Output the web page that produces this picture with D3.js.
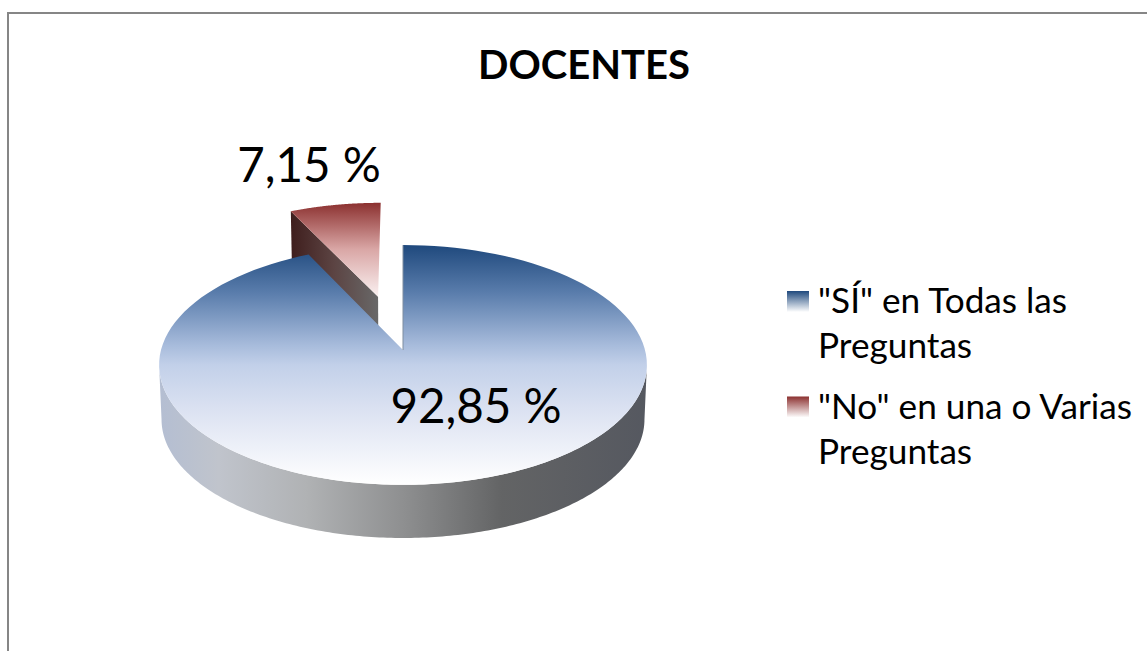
<!DOCTYPE html>
<html><head><meta charset="utf-8">
<script src="https://d3js.org/d3.v7.min.js"></script>
<style>html,body{margin:0;padding:0;background:#fff;overflow:hidden}svg{display:block}text{font-family:Lato,"Open Sans",sans-serif;fill:#000}</style>
</head><body><svg id="c" width="1147" height="651"></svg>
<script>
const chartTitle = "DOCENTES";
const categories = ['"SÍ" en Todas las Preguntas', '"No" en una o Varias Preguntas'];
const legendLines = [['"SÍ" en Todas las', 'Preguntas'], ['"No" en una o Varias', 'Preguntas']];
const values = [92.85, 7.15];
const valueLabels = ["92,85 %", "7,15 %"];

const svg = d3.select("#c");
const defs = svg.append("defs");
function grad(id, stops, x1, y1, x2, y2) {
  const g = defs.append("linearGradient").attr("id", id).attr("gradientUnits", "userSpaceOnUse")
    .attr("x1", x1).attr("y1", y1).attr("x2", x2).attr("y2", y2);
  stops.forEach(s => g.append("stop").attr("offset", s[0]).attr("stop-color", s[1]));
}
grad("blueTop", [[0,"#1f497d"],[.2,"#5a7dac"],[.42,"#a8bcdc"],[.5,"#c2d0e9"],[.7,"#dde3f2"],[1,"#ffffff"]], 0,245,0,485);
grad("redTop", [[0,"#8c3130"],[.5,"#d9a6a5"],[1,"#f9eeee"]], 0,203,0,295);
grad("wall", [[0,"#b4bed2"],[.12,"#c0c4cc"],[.3,"#b0b2b4"],[.5,"#8e8f90"],[.7,"#636465"],[1,"#555860"]], 160,0,648,0);
grad("redWall", [[0,"#3e1d1c"],[.5,"#5c4443"],[1,"#686868"]], 290,0,378,0);
grad("legBlue", [[0,"#1f497d"],[1,"#ffffff"]], 0,291,0,312);
grad("legRed", [[0,"#8c3130"],[1,"#ffffff"]], 0,291,0,312);

// frame
svg.append("path").attr("d","M8,651V13H1147").attr("fill","none").attr("stroke","#868686").attr("stroke-width",2);

// pie geometry through d3.pie, then a perspective projection of the disc
const pie = d3.pie().sort(null).value(d => d)(values);
const cx = 403, cy = 350, A = 242, B = 118, P = 0.125, DEPTH = 54.5, EXPLODE = 0.49;
function project(u, v, drop = 0) {
  const w = 1 + P * v, s = drop ? 0.99 : 1;
  return [cx + s * A * u / w, cy - s * B * v / w + drop];
}
function wedge(d, off, drop = 0) {
  const pts = [project(off[0], off[1], drop)];
  d3.range(0, 121).forEach(i => {
    const t = d.startAngle + (d.endAngle - d.startAngle) * i / 120;
    pts.push(project(off[0] + Math.sin(t), off[1] + Math.cos(t), drop));
  });
  return pts;
}
const line = p => "M" + p.map(q => q.map(n => n.toFixed(2)).join(",")).join("L") + "Z";
const [blue, red] = pie;
const mid = (red.startAngle + red.endAngle) / 2;
const off = [EXPLODE * Math.sin(mid), EXPLODE * Math.cos(mid)];

// exploded slice: its left wall first
const rTop = wedge(red, off);
const rLow = wedge(red, off, DEPTH);
svg.append("path").attr("fill", "url(#redWall)")
  .attr("d", line([rTop[1], rTop[0], rLow[0], rLow[1]]));
svg.append("path").attr("fill", "url(#redTop)").attr("d", line(rTop));

// main body: outer wall between the two silhouette points of the disc
const arcPts = (drop, from, to) => d3.range(0, 201).map(i => {
  const t = from + (to - from) * i / 200;
  return project(Math.sin(t), Math.cos(t), drop);
});
const near0 = Math.acos(-P), near1 = 2 * Math.PI - near0;
svg.append("path").attr("fill", "url(#wall)")
  .attr("d", line(arcPts(0, near0, near1).concat(arcPts(DEPTH, near0, near1).reverse())));
const bTop = wedge(blue, [0, 0]);
svg.append("path").attr("fill", "url(#blueTop)").attr("d", line(bTop));
// thin lit edge along the cut at twelve o'clock
const c0 = project(0, 0), c1 = project(0, 1);
svg.append("line").attr("x1", c0[0]).attr("y1", c0[1]).attr("x2", c1[0]).attr("y2", c1[1])
  .attr("stroke", "#7f8d9f").attr("stroke-width", 1);

// text
svg.append("text").attr("x", 584).attr("y", 79).attr("text-anchor", "middle")
  .attr("font-size", 40).attr("font-weight", 700).text(chartTitle);
svg.append("text").attr("x", 476).attr("y", 423).attr("text-anchor", "middle")
  .attr("font-size", 47.5).text(valueLabels[0]);
svg.append("text").attr("x", 309).attr("y", 182).attr("text-anchor", "middle")
  .attr("font-size", 47.5).text(valueLabels[1]);

// legend
const legendY = d3.scalePoint().domain(categories).range([0, 105.5]);
const items = svg.selectAll("g.leg").data(categories).join("g").attr("class", "leg")
  .attr("transform", d => `translate(0,${legendY(d)})`);
items.append("rect").attr("x", 787).attr("y", 291).attr("width", 22).attr("height", 21)
  .attr("fill", (d, i) => i ? "url(#legRed)" : "url(#legBlue)");
items.each(function (d, i) {
  legendLines[i].forEach((t, j) => d3.select(this).append("text")
    .attr("x", 818).attr("y", 313 + j * 45).attr("font-size", 35.2).text(t));
});
</script></body></html>
